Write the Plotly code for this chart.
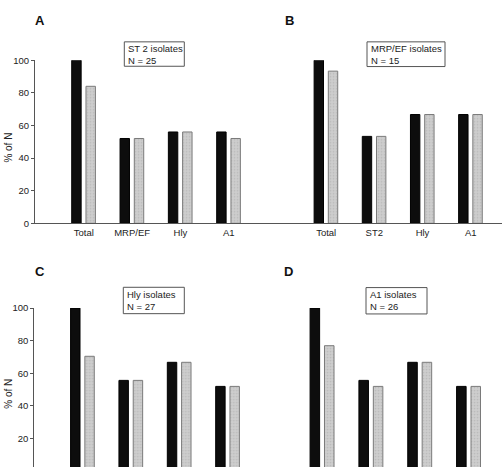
import plotly.graph_objects as go

W, H = 502, 472

# ---- data ----
cats_A = ["Total", "MRP/EF", "Hly", "A1"]
black_A = [100, 52, 56, 56]
grey_A = [84, 52, 56, 52]

cats_B = ["Total", "ST2", "Hly", "A1"]
black_B = [100, 53.3, 66.7, 66.7]
grey_B = [93.3, 53.3, 66.7, 66.7]

cats_C = ["Total", "MRP/EF", "Hly", "A1"]
black_C = [100, 55.6, 66.7, 51.9]
grey_C = [70.4, 55.6, 66.7, 51.9]

cats_D = ["Total", "ST2", "Hly", "A1"]
black_D = [100, 55.6, 66.7, 51.9]
grey_D = [76.9, 51.9, 66.7, 51.9]

panel_letters = ["A", "B", "C", "D"]
box_line1 = ["ST 2 isolates", "MRP/EF isolates", "Hly isolates", "A1 isolates"]
box_line2 = ["N = 25", "N = 15", "N = 27", "N = 26"]
y_ticks = [0, 20, 40, 60, 80, 100]

FONT = "Liberation Sans, Arial, sans-serif"
BLACK = "#0d0d0d"
GREY = "#cdcdcd"
GREY_LINE = "#7a7a7a"
AXIS = "#555555"

fig = go.Figure()

panels = [
    (cats_A, black_A, grey_A, "x", "y"),
    (cats_B, black_B, grey_B, "x2", "y2"),
    (cats_C, black_C, grey_C, "x3", "y3"),
    (cats_D, black_D, grey_D, "x4", "y4"),
]
BW = 0.195
for cats, b, g, xa, ya in panels:
    fig.add_trace(go.Bar(x=cats, y=b, xaxis=xa, yaxis=ya, width=BW, offset=-0.25,
                         marker=dict(color=BLACK, line=dict(color="#000000", width=1)),
                         showlegend=False, hoverinfo="skip"))
    fig.add_trace(go.Bar(x=cats, y=g, xaxis=xa, yaxis=ya, width=BW, offset=0.045,
                         marker=dict(color=GREY, line=dict(color=GREY_LINE, width=1),
                                     pattern=dict(shape=".", fgcolor="#a8a8a8", size=3, solidity=0.25)),
                         showlegend=False, hoverinfo="skip"))

def px_x(p):
    return p / W

def px_y(p):
    return 1 - p / H

top_dom = [px_y(222.5), px_y(55.5)]
bot_dom = [0, px_y(309.3)]

xcommon = dict(type="category", showgrid=False, zeroline=False, ticks="",
               tickfont=dict(family=FONT, size=9.5, color="#222222"), fixedrange=True)
ycommon = dict(showgrid=False, zeroline=False, tickvals=y_ticks, fixedrange=True,
               tickfont=dict(family=FONT, size=9.5, color="#222222"))

fig.update_layout(
    width=W, height=H, margin=dict(l=0, r=0, t=0, b=0),
    paper_bgcolor="white", plot_bgcolor="white", barmode="overlay",
    font=dict(family=FONT, color="#222222"),
    xaxis=dict(xcommon, domain=[px_x(35), px_x(251)], range=[-1.01, 3.46], anchor="y",
               showline=True, linecolor=AXIS, linewidth=1),
    yaxis=dict(ycommon, domain=top_dom, range=[0, 100], anchor="x",
               showline=True, linecolor=AXIS, linewidth=1, ticks="outside", ticklen=3,
               tickcolor=AXIS),
    xaxis2=dict(xcommon, domain=[px_x(251), 1], range=[-1.56, 3.65], anchor="y2",
                showline=True, linecolor=AXIS, linewidth=1),
    yaxis2=dict(ycommon, domain=top_dom, range=[0, 100], anchor="x2",
                showline=False, showticklabels=False),
    xaxis3=dict(xcommon, domain=[px_x(34.3), px_x(251)], range=[-1.0, 3.48], anchor="y3",
                showline=False, showticklabels=False),
    yaxis3=dict(ycommon, domain=bot_dom, range=[2.4, 100], anchor="x3",
                showline=True, linecolor=AXIS, linewidth=1, ticks="outside", ticklen=3,
                tickcolor=AXIS),
    xaxis4=dict(xcommon, domain=[px_x(251), 1], range=[-1.46, 3.68], anchor="y4",
                showline=False, showticklabels=False),
    yaxis4=dict(ycommon, domain=bot_dom, range=[2.4, 100], anchor="x4",
                showline=False, showticklabels=False),
)

annotations = []
shapes = []
letter_pos = [(40, 15), (289, 15), (40, 272), (288, 272)]
box_pos = [(124.3, 36.7, 184.3, 61.7), (367, 36.7, 445, 62), (123.3, 288, 184.3, 315),
           (366, 288.3, 427, 315.3)]
for i in range(4):
    lx, ly = letter_pos[i]
    annotations.append(dict(text="<b>%s</b>" % panel_letters[i], x=px_x(lx), y=px_y(ly),
                            xref="paper", yref="paper", showarrow=False,
                            xanchor="center", yanchor="middle",
                            font=dict(family=FONT, size=13, color="#111111")))
    x0, y0, x1, y1 = box_pos[i]
    shapes.append(dict(type="rect", xref="paper", yref="paper", x0=px_x(x0), x1=px_x(x1),
                       y0=px_y(y0), y1=px_y(y1), line=dict(color="#555555", width=1),
                       fillcolor="white"))
    annotations.append(dict(text=box_line1[i] + "<br>" + box_line2[i],
                            x=px_x(x0 + 3), y=px_y((y0 + y1) / 2),
                            xanchor="left", yanchor="middle", align="left",
                            borderpad=0,
                            xref="paper", yref="paper", showarrow=False,
                            font=dict(family=FONT, size=9.5, color="#222222")))

for yy in (145, 397):
    annotations.append(dict(text="% of N", x=px_x(9), y=px_y(yy), xref="paper", yref="paper",
                            showarrow=False, textangle=-90, xanchor="center", yanchor="middle",
                            font=dict(family=FONT, size=10, color="#222222")))

fig.update_layout(annotations=annotations, shapes=shapes)

fig.write_html("out.html")
